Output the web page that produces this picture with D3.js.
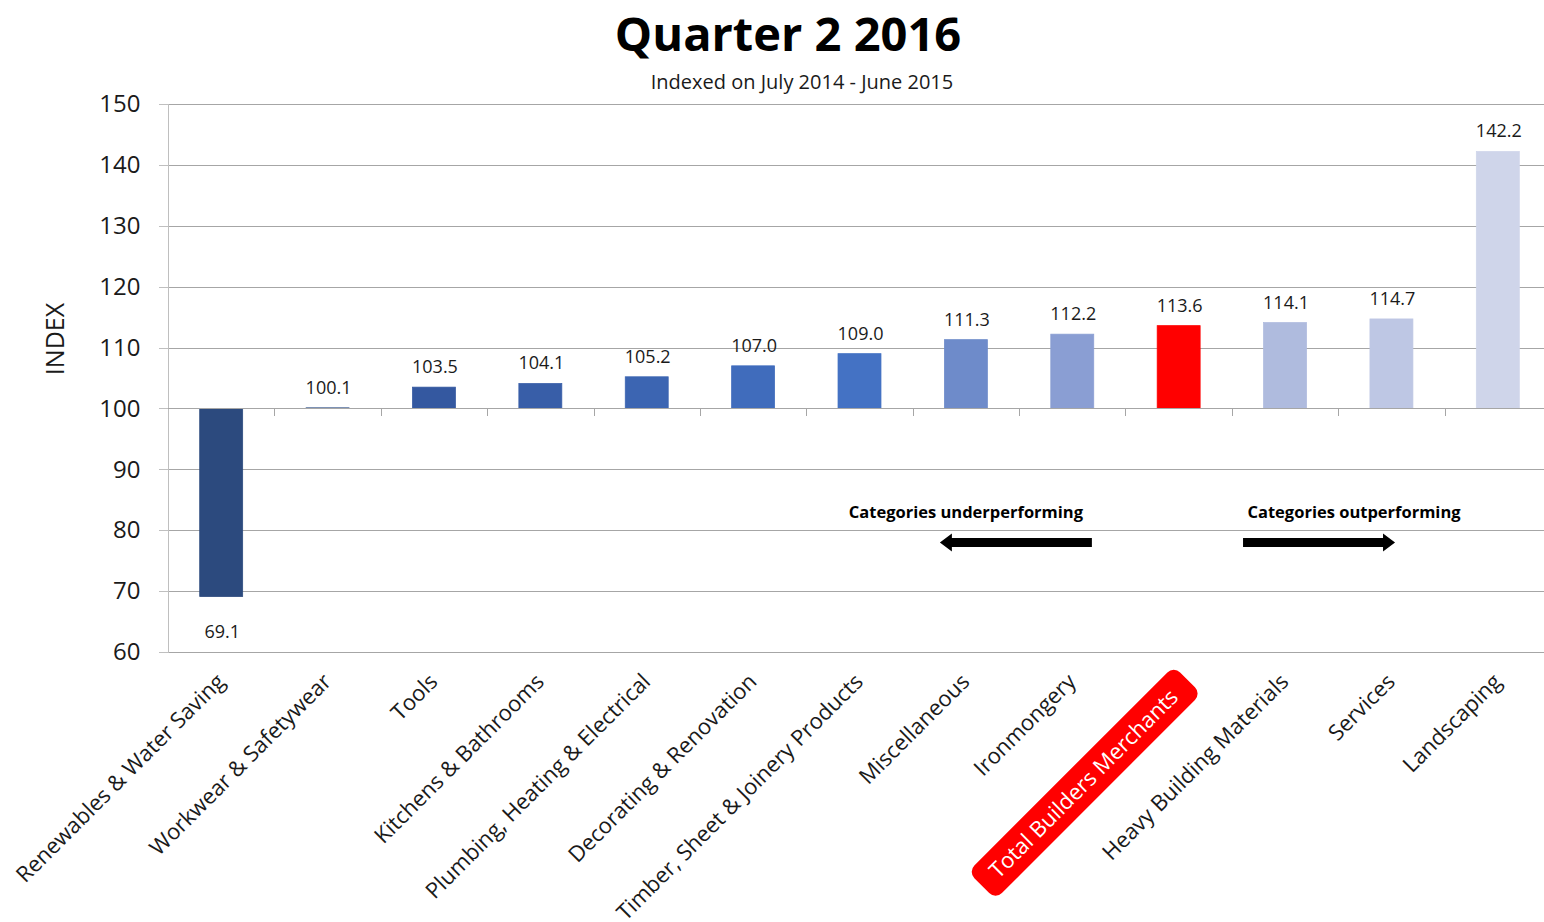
<!DOCTYPE html>
<html lang="en">
<head>
<meta charset="UTF-8">
<title>Quarter 2 2016</title>
<script src="https://d3js.org/d3.v7.min.js"></script>
<style>
    body { margin: 0; background: #ffffff; }
    svg { display: block; font-family: 'Open Sans', 'Noto Sans', sans-serif; }
    .grid line { stroke: #a6a6a6; stroke-width: 1px; shape-rendering: crispEdges; }
    .y-axis path { display: none; }
    .y-axis line { stroke: #bfbfbf; shape-rendering: crispEdges; }
    .y-axis text { font-size: 24px; fill: #1a1a1a; font-family: 'Open Sans', 'Noto Sans', sans-serif; }
    .x-tick { stroke: #a6a6a6; shape-rendering: crispEdges; }
    .cat-label { font-size: 22px; fill: #1a1a1a; }
    .bar-label { font-size: 18px; fill: #1a1a1a; text-anchor: middle; }
    .note { font-size: 16.5px; font-weight: 700; fill: #000; text-anchor: middle; }
</style>
</head>
<body>
<svg id="chart" width="1544" height="922"></svg>
<script>
    // data
    const categories = [
        "Renewables & Water Saving", "Workwear & Safetywear", "Tools", "Kitchens & Bathrooms",
        "Plumbing, Heating & Electrical", "Decorating & Renovation", "Timber, Sheet & Joinery Products",
        "Miscellaneous", "Ironmongery", "Total Builders Merchants", "Heavy Building Materials",
        "Services", "Landscaping"
    ];
    const values = [69.1, 100.1, 103.5, 104.1, 105.2, 107.0, 109.0, 111.3, 112.2, 113.6, 114.1, 114.7, 142.2];
    const barColors = [
        "#2c4a7e", "#2f4f89", "#3458a0", "#385ea8", "#3c65b2", "#406cbc", "#4472c4",
        "#6e8bca", "#8a9ed3", "#ff0000", "#afbbde", "#bec7e4", "#cfd5ea"
    ];
    const yTicks = [60, 70, 80, 90, 100, 110, 120, 130, 140, 150];
    const highlighted = "Total Builders Merchants";
    const baseValue = 100;

    const svg = d3.select("#chart");
    const W = 1544;

    const x = d3.scaleBand()
        .domain(categories)
        .range([168, 1551])
        .paddingInner(0.596)
        .paddingOuter(0.298);
    const y = d3.scaleLinear().domain([60, 150]).range([652, 104]);
    const step = x.step();
    const bw = x.bandwidth();

    // titles
    svg.append("text")
        .attr("x", 788).attr("y", 51)
        .attr("text-anchor", "middle")
        .style("font-size", "47px").style("font-weight", 700)
        .text("Quarter 2 2016");
    svg.append("text")
        .attr("x", 802).attr("y", 89)
        .attr("text-anchor", "middle")
        .style("font-size", "20px").attr("fill", "#1a1a1a")
        .text("Indexed on July 2014 - June 2015");

    // gridlines
    svg.append("g").attr("class", "grid")
        .selectAll("line").data(yTicks).join("line")
        .attr("x1", 168).attr("x2", W)
        .attr("y1", d => Math.round(y(d)) + 0.5)
        .attr("y2", d => Math.round(y(d)) + 0.5);

    // y axis
    const yAxis = svg.append("g").attr("class", "y-axis")
        .attr("transform", "translate(168.5,0)")
        .call(d3.axisLeft(y).tickValues(yTicks).tickSize(10).tickPadding(18))
        .attr("font-family", null).attr("font-size", null);
    yAxis.append("line")
        .attr("y1", y(150)).attr("y2", y(60));

    svg.append("text")
        .attr("transform", "translate(64,339) rotate(-90)")
        .attr("text-anchor", "middle")
        .style("font-size", "25px").attr("fill", "#1a1a1a")
        .text("INDEX");

    // bars
    svg.append("g").selectAll("rect").data(categories).join("rect")
        .attr("x", d => x(d))
        .attr("width", bw)
        .attr("y", (d, i) => y(Math.max(values[i], baseValue)))
        .attr("height", (d, i) => Math.abs(y(values[i]) - y(baseValue)))
        .attr("fill", (d, i) => barColors[i])
        .attr("stroke", (d, i) => barColors[i])
        .attr("stroke-width", 0.75);

    // category axis at 100
    svg.append("line")
        .attr("x1", 168).attr("x2", W)
        .attr("y1", Math.round(y(baseValue)) + 0.5).attr("y2", Math.round(y(baseValue)) + 0.5)
        .attr("stroke", "#a6a6a6");
    svg.append("g").selectAll("line").data(categories.slice(1)).join("line")
        .attr("class", "x-tick")
        .attr("x1", d => Math.round(x(d) - (step - bw) / 2) + 0.5)
        .attr("x2", d => Math.round(x(d) - (step - bw) / 2) + 0.5)
        .attr("y1", y(baseValue)).attr("y2", y(baseValue) + 8);

    // value labels
    svg.append("g").selectAll("text").data(categories).join("text")
        .attr("class", "bar-label")
        .attr("x", d => x(d) + bw / 2 + 1)
        .attr("y", (d, i) => values[i] >= baseValue ? y(values[i]) - 14 : y(values[i]) + 41)
        .text((d, i) => values[i].toFixed(1));

    // rotated category labels
    const lab = svg.append("g").selectAll("g").data(categories).join("g")
        .attr("transform", d => `translate(${x(d) + bw / 2 + 5},683) rotate(-45)`);
    lab.filter(d => d === highlighted).append("rect")
        .attr("x", -286).attr("y", -19)
        .attr("width", 291).attr("height", 39)
        .attr("rx", 9)
        .attr("fill", "#ff0000");
    lab.append("text")
        .attr("class", "cat-label")
        .attr("text-anchor", "end")
        .attr("x", d => d === highlighted ? -14 : 0)
        .attr("y", d => d === highlighted ? 8 : 0)
        .style("fill", d => d === highlighted ? "#ffffff" : null)
        .text(d => d);

    // performance notes with arrows
    const noteY = y(83) + 6;
    const arrowY = y(78);
    const under = x("Miscellaneous") + bw / 2;
    const out = x("Heavy Building Materials") + bw / 2 + 69;
    svg.append("text").attr("class", "note").attr("x", under).attr("y", noteY).text("Categories underperforming");
    svg.append("text").attr("class", "note").attr("x", out).attr("y", noteY).text("Categories outperforming");

    function arrow(x0, x1, dir) {
        // dir = -1 points left, 1 points right
        const h = 4.5, head = 9, hl = 12;
        const tip = dir < 0 ? x0 : x1;
        const tail = dir < 0 ? x1 : x0;
        const neck = tip - dir * hl;
        return `M${tail},${arrowY - h} L${neck},${arrowY - h} L${neck},${arrowY - head} L${tip},${arrowY} ` +
               `L${neck},${arrowY + head} L${neck},${arrowY + h} L${tail},${arrowY + h} Z`;
    }
    svg.append("path").attr("d", arrow(under - 26, under + 126, -1)).attr("fill", "#000");
    svg.append("path").attr("d", arrow(out - 111, out + 41, 1)).attr("fill", "#000");
</script>
</body>
</html>
